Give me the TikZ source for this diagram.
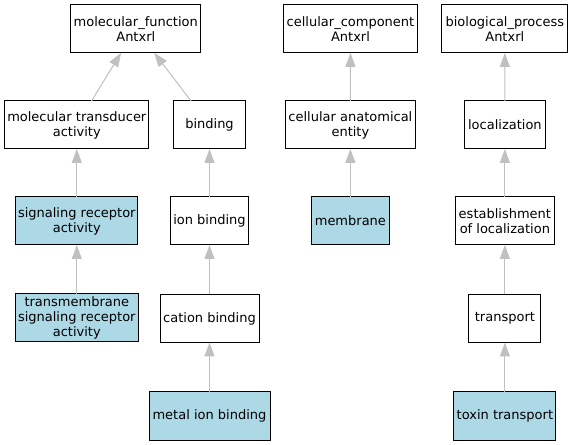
\documentclass[tikz,border=0pt]{standalone}
\usepackage{fontspec}
\setmainfont{DejaVu Sans}
\usetikzlibrary{arrows.meta,positioning}
\definecolor{leafblue}{HTML}{ADD8E6}
\definecolor{edgegray}{HTML}{C0C0C0}
\newcommand{\goterm}[4]{%
    \node[termbox, minimum width=#4] (#1) at (#3) {#2};
}
\newcommand{\goleaf}[4]{%
    \node[termbox, fill=leafblue, minimum width=#4] (#1) at (#3) {#2};
}

\begin{document}
\begin{tikzpicture}[
            x=0.75pt, y=-0.75pt,
            termbox/.style = {draw=black,
                line width=0.75pt,
                fill=white,
                align=center,
                minimum height=36pt,
                inner xsep=1.5pt,
                inner ysep=1.5pt,
                outer sep=0pt,
                font=\fontsize{9.75}{11.25}\selectfont,
            },
            isa/.style = {draw=edgegray,
                line width=0.75pt,
                -{Triangle[length=10.5pt, width=7.5pt]},
            }
        ]
            \useasboundingbox (0,0) rectangle (575,445);
            % top row
            \goterm{mf}{molecular\_function\\Antxrl}{135.8,28.8}{97.7pt}
            \goterm{cc}{cellular\_component\\Antxrl}{350.5,28.8}{100.8pt}
            \goterm{bp}{biological\_process\\Antxrl}{504.8,29}{94.3pt}
            % second row
            \goterm{mta}{molecular transducer\\activity}{76.8,125}{108pt}
            \goterm{binding}{binding}{209.5,125}{54pt}
            \goterm{cae}{cellular anatomical\\entity}{350.4,125}{98pt}
            \goterm{loc}{localization}{504.9,125}{60.75pt}
            % third row
            \goleaf{sra}{signaling receptor\\activity}{76.8,221}{91.7pt}
            \goterm{ionb}{ion binding}{209.5,221}{58.5pt}
            \goleaf{membrane}{membrane}{350.4,221}{58.2pt}
            \goterm{estab}{establishment\\of localization}{504.9,221}{74.5pt}
            % fourth row
            \goleaf{tsra}{transmembrane\\signaling receptor\\activity}{76.8,318}{92.25pt}
            \goterm{cation}{cation binding}{209.5,318.5}{74.25pt}
            \goterm{transport}{transport}{504.9,318.5}{54pt}
            % bottom row
            \goleaf{metal}{metal ion binding}{209.5,416}{90.75pt}
            \goleaf{toxin}{toxin transport}{504.9,416}{76.5pt}
            \foreach \child/\parent in {mta/mf, binding/mf, cae/cc, loc/bp,
                sra/mta, ionb/binding, membrane/cae, estab/loc,
                tsra/sra, cation/ionb, transport/estab,
                metal/cation, toxin/transport}
                \draw[isa] (\child) -- (\parent);
        \end{tikzpicture}
\end{document}
